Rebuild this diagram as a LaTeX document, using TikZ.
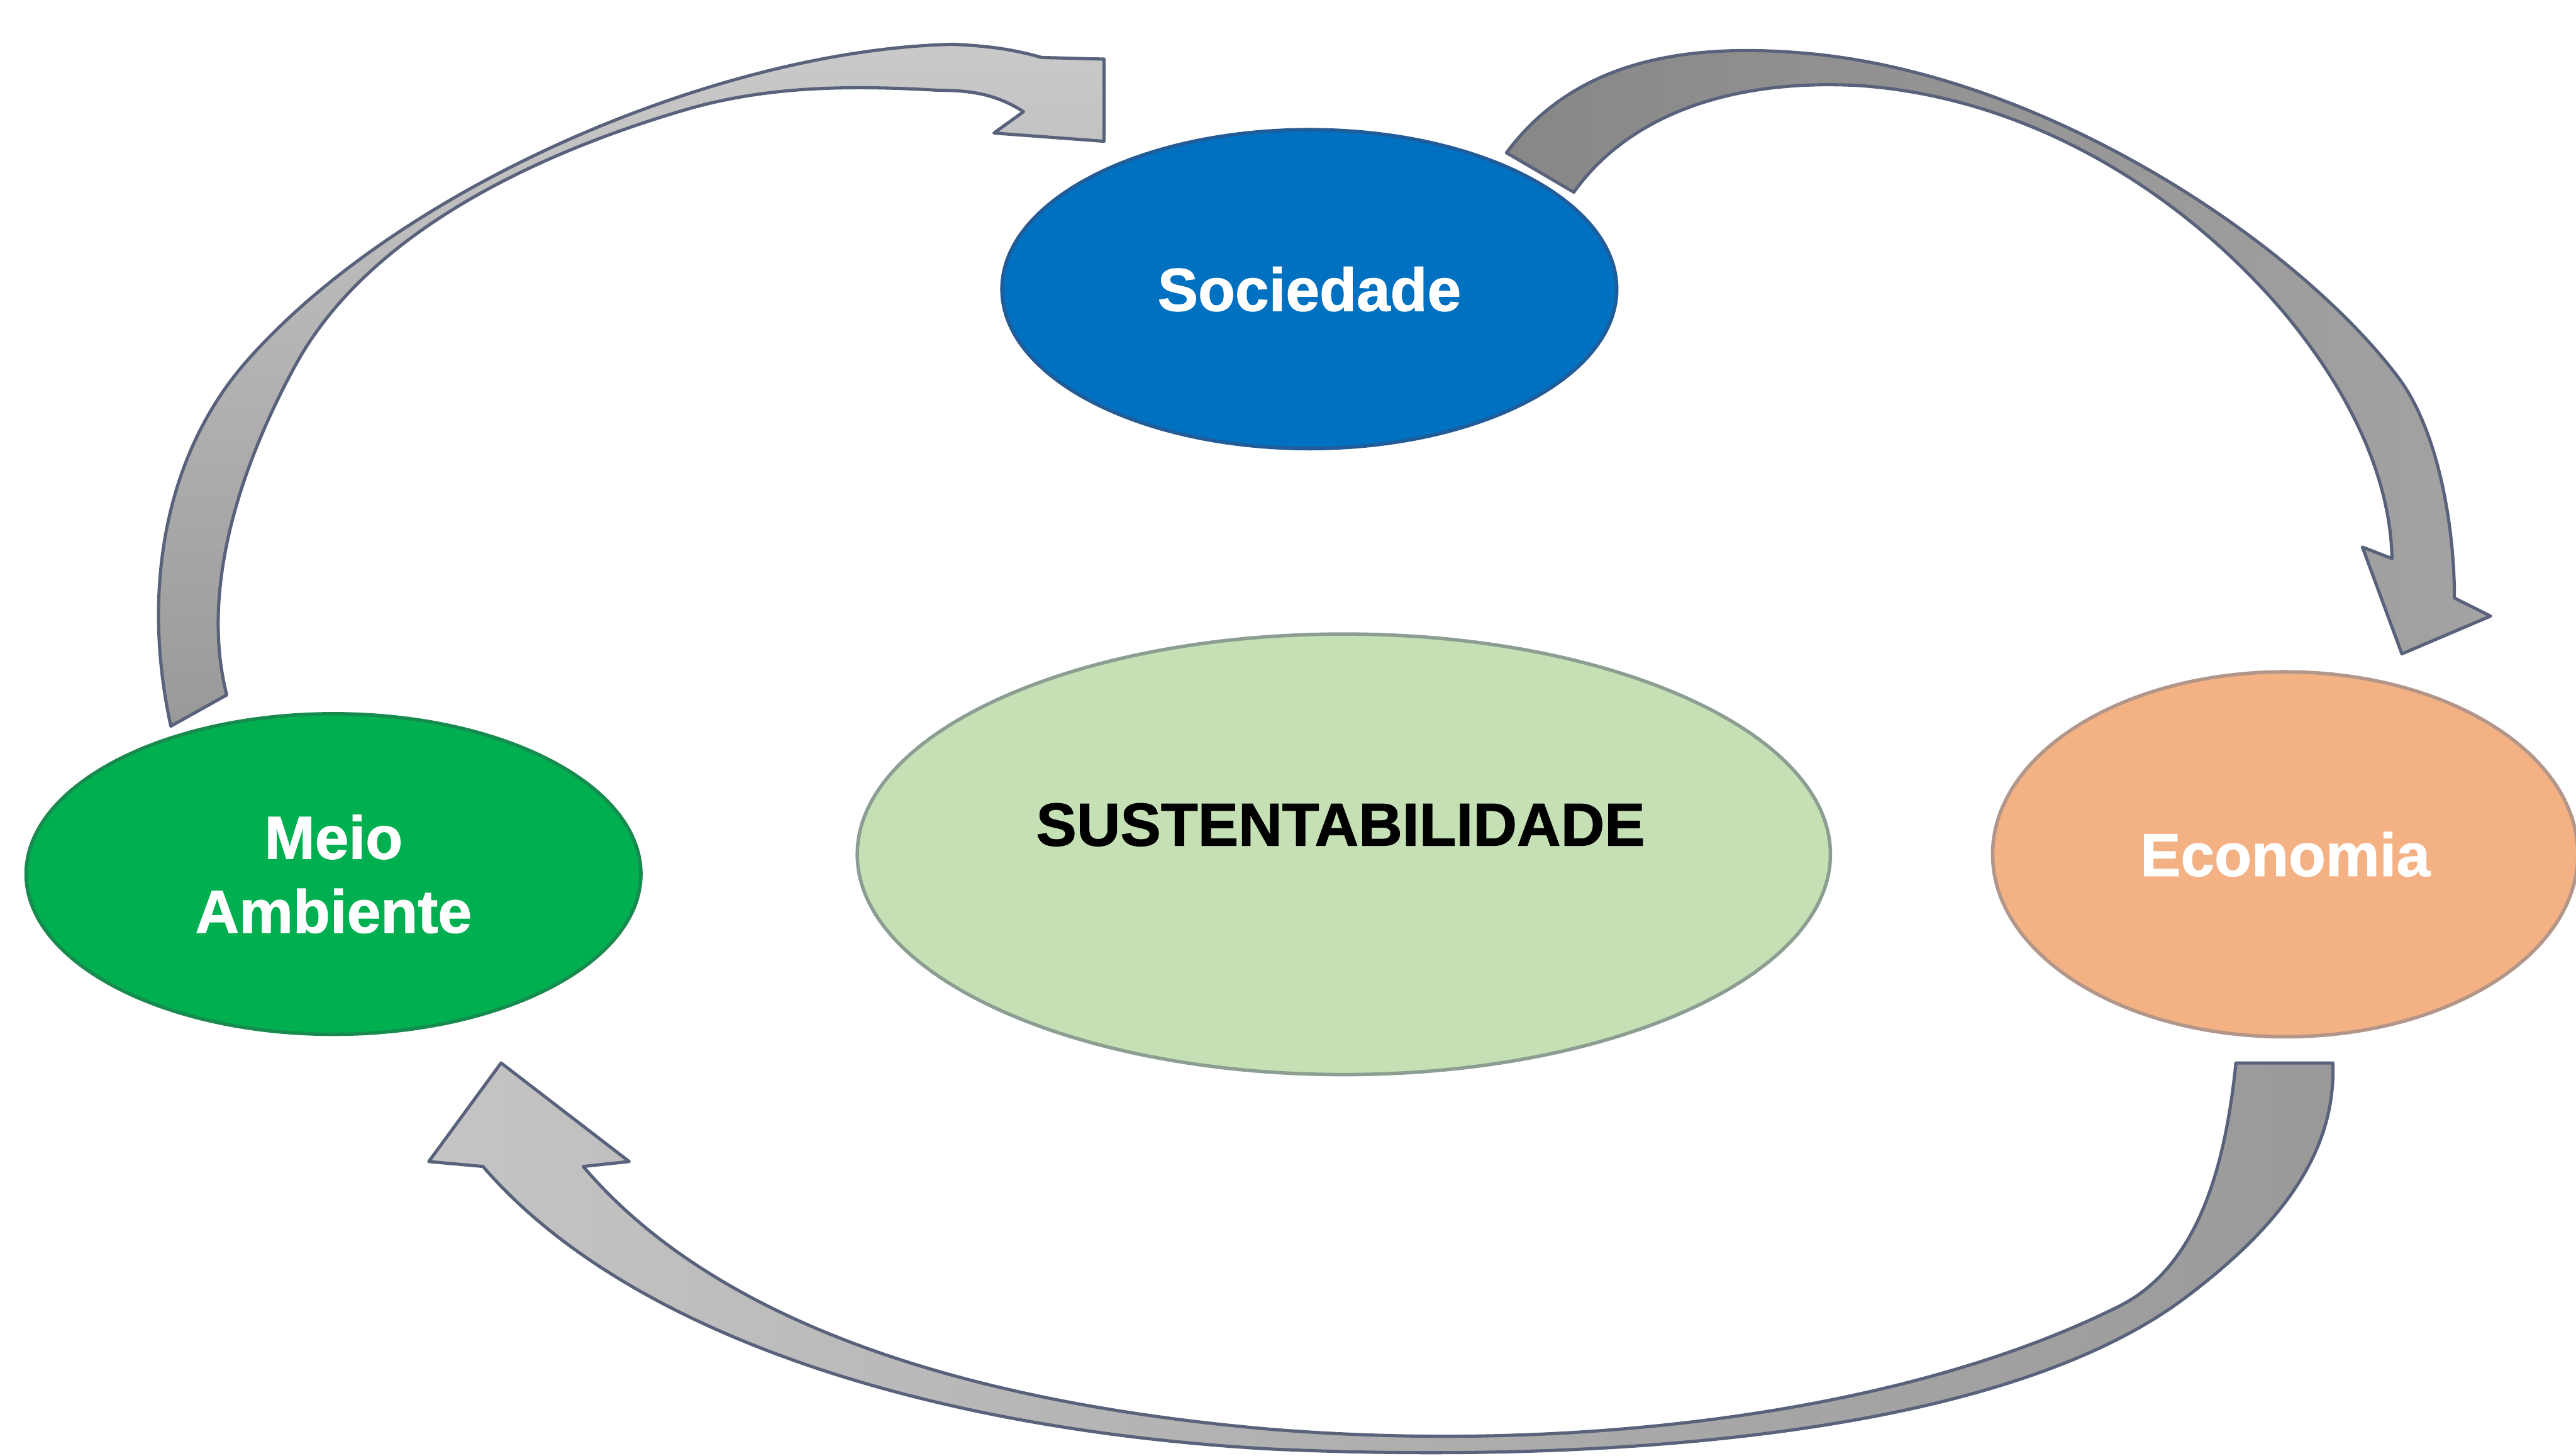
\documentclass[tikz,border=0pt]{standalone}
\usepackage{fontspec}
\setmainfont{Liberation Sans}
\newfontfamily\labelfont{Liberation Sans}[BoldFeatures={FakeBold=1.2}]
\usetikzlibrary{shapes.geometric}

\definecolor{socblue}{HTML}{0070C0}
\definecolor{socedge}{HTML}{215C98}
\definecolor{meiogreen}{HTML}{00B050}
\definecolor{meioedge}{HTML}{178A4E}
\definecolor{ecofill}{HTML}{F4B183}
\definecolor{ecoedge}{HTML}{B2968A}
\definecolor{susfill}{HTML}{C5E0B4}
\definecolor{susedge}{HTML}{8C9E92}
\definecolor{arrowedge}{HTML}{58627A}

\tikzset{
  labeltext/.style={font=\fontsize{10.5}{12.8}\selectfont\labelfont\bfseries},
  bubble/.style={ellipse, inner sep=0pt, line width=0.6pt, labeltext,
    text=white, align=center},
  blockarrow/.style={draw=arrowedge, line width=0.55pt, line join=round},
}

\begin{document}
\begin{tikzpicture}[x=0.01cm, y=-0.01cm]
\useasboundingbox[fill=white] (0,0) rectangle (1568,886);

% the four ellipses
\node[bubble, fill=susfill, draw=susedge, minimum width=5.92cm, minimum height=2.68cm] (sus) at (818,520) {};
\node[labeltext, text=black, inner sep=0pt] (sustxt) at (816,502) {SUSTENTABILIDADE};

\node[bubble, fill=socblue, draw=socedge, minimum width=3.74cm, minimum height=1.94cm] (soc) at (797,176) {Sociedade};

\node[bubble, fill=meiogreen, draw=meioedge, minimum width=3.74cm, minimum height=1.95cm] (meio) at (203,532) {Meio\\Ambiente};

\node[bubble, fill=ecofill, draw=ecoedge, minimum width=3.56cm, minimum height=2.22cm] (eco) at (1391,520) {Economia};

% Meio Ambiente -> Sociedade
\path[blockarrow, top color=black!21, bottom color=black!40]
  (104,442)
  .. controls (86,360) and (100,277) .. (150,220)
  .. controls (245,112) and (440,30) .. (580,27)
  .. controls (605,28) and (620,31) .. (634,35)
  -- (672,36) -- (672,86) -- (605,81) -- (623,68)
  .. controls (606,57) and (590,55) .. (572,55)
  .. controls (520,52) and (470,52) .. (420,66)
  .. controls (330,92) and (225,140) .. (180,222)
  .. controls (145,286) and (122,360) .. (138,423)
  -- cycle;

% Sociedade -> Economia
\path[blockarrow, left color=black!47, right color=black!36]
  (917,93)
  .. controls (960,35) and (1030,25.5) .. (1105,33)
  .. controls (1250,48) and (1400,150) .. (1460,230)
  .. controls (1484,262) and (1494,320) .. (1494,364)
  -- (1516,375) -- (1462,398) -- (1438,333) -- (1456,340)
  .. controls (1455,290) and (1430,238) .. (1390,190)
  .. controls (1320,108) and (1225,58) .. (1130,52)
  .. controls (1050,48) and (990,72) .. (958,117)
  -- cycle;

% Economia -> Meio Ambiente
\path[blockarrow, left color=black!23, right color=black!40]
  (1361,647) -- (1420,647)
  .. controls (1422,700) and (1390,745) .. (1330,790)
  .. controls (1210,880) and (950,890) .. (774,882)
  .. controls (560,870) and (380,810) .. (294,710)
  -- (261,707) -- (305,647) -- (383,707) -- (355,710)
  .. controls (440,810) and (600,855) .. (774,870)
  .. controls (960,885) and (1160,860) .. (1290,795)
  .. controls (1340,770) and (1355,705) .. (1361,647)
  -- cycle;

\end{tikzpicture}
\end{document}
